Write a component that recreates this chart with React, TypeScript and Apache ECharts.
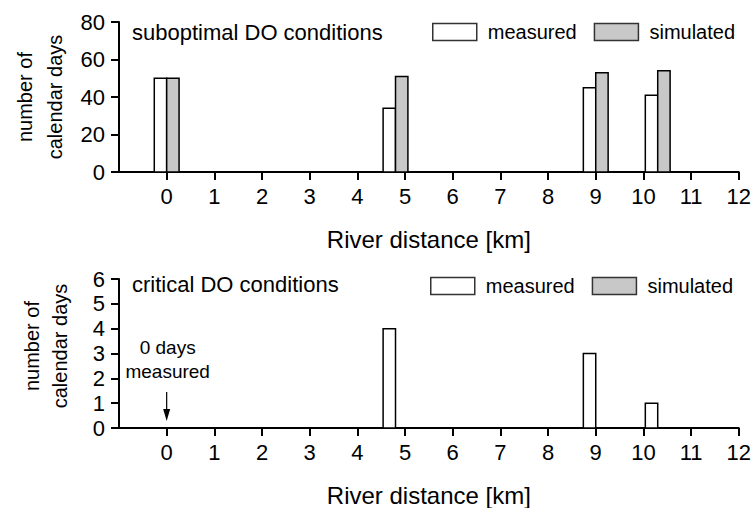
import React, { useEffect, useRef } from "react";
import * as echarts from "echarts";

// ---- data ----
const positions = [0, 4.8, 9, 10.3]; // river distance [km]
const suboptimalMeasured = [50, 34, 45, 41];
const suboptimalSimulated = [50, 51, 53, 54];
const criticalMeasured = [0, 4, 3, 1];
const criticalSimulated = [0, 0, 0, 0];
const xTickValues = [0, 1, 2, 3, 4, 5, 6, 7, 8, 9, 10, 11, 12];
const xTitle = "River distance [km]";
const yTitleLines = ["number of", "calendar days"];
const topPanelTitle = "suboptimal DO conditions";
const bottomPanelTitle = "critical DO conditions";
const seriesNames = ["measured", "simulated"];

const FONT = "'Liberation Sans', Arial, Helvetica, sans-serif";
const BAR_W = 0.26;
const SIM_FILL = "#c8c8c8";

function pairs(xs: number[], ys: number[]) {
  return xs.map((x, i) => [x, ys[i]]);
}

function makeRender(side: number, fill: string) {
  return (params: any, api: any) => {
    const x = api.value(0);
    const y = api.value(1);
    if (!y) return null;
    const x0 = side < 0 ? x - BAR_W : x;
    const pTop = api.coord([x0, y]);
    const pBot = api.coord([x0 + BAR_W, 0]);
    return {
      type: "rect",
      shape: {
        x: pTop[0],
        y: pTop[1],
        width: pBot[0] - pTop[0],
        height: pBot[1] - pTop[1],
      },
      style: { fill, stroke: "#000", lineWidth: 1.5 },
    };
  };
}

function xAxis(gridIndex: number) {
  return {
    type: "value",
    gridIndex,
    min: -1,
    max: 12,
    interval: 1,
    name: xTitle,
    nameLocation: "middle",
    nameGap: 55,
    nameTextStyle: { fontSize: 24, color: "#000", fontFamily: FONT },
    axisLine: { show: true, onZero: false, lineStyle: { color: "#000", width: 2 } },
    axisTick: {
      show: true,
      length: 8,
      customValues: xTickValues,
      lineStyle: { color: "#000", width: 2 },
    },
    axisLabel: {
      fontSize: 22,
      color: "#000",
      fontFamily: FONT,
      margin: 13,
      customValues: xTickValues,
      formatter: (v: number) => (v < 0 ? "" : String(v)),
    },
    splitLine: { show: false },
  };
}

function yAxis(gridIndex: number, max: number, interval: number) {
  return {
    type: "value",
    gridIndex,
    min: 0,
    max,
    interval,
    axisLine: { show: true, onZero: false, lineStyle: { color: "#000", width: 2 } },
    axisTick: { show: true, length: 8, lineStyle: { color: "#000", width: 2 } },
    axisLabel: { fontSize: 22, color: "#000", fontFamily: FONT, margin: 14 },
    splitLine: { show: false },
  };
}

function legend(top: number, left: number) {
  return {
    top,
    left,
    orient: "horizontal",
    itemWidth: 44,
    itemHeight: 17,
    itemGap: 17,
    selectedMode: false,
    textStyle: { fontSize: 20, color: "#000", fontFamily: FONT, padding: [0, 0, 0, 6] },
    data: [
      { name: seriesNames[0], icon: "rect", itemStyle: { color: "#fff", borderColor: "#333", borderWidth: 1.5 } },
      { name: seriesNames[1], icon: "rect", itemStyle: { color: SIM_FILL, borderColor: "#333", borderWidth: 1.5 } },
    ],
  };
}

function yTitle(cx1: number, cx2: number, cy: number) {
  return yTitleLines.map((t, i) => ({
    type: "text",
    x: i === 0 ? cx1 : cx2,
    y: cy,
    rotation: Math.PI / 2,
    style: {
      text: t,
      fontSize: 20,
      fontFamily: FONT,
      fill: "#000",
      textAlign: "center",
      textVerticalAlign: "middle",
    },
  }));
}

export default function App() {
  const ref = useRef<HTMLDivElement>(null);
  useEffect(() => {
    if (!ref.current) return;
    const chart = echarts.init(ref.current, undefined, { renderer: "svg" });
    chart.setOption({
      animation: false,
      backgroundColor: "#fff",
      grid: [
        { left: 119, right: 15, top: 22, height: 150 },
        { left: 119, right: 15, top: 279, height: 150 },
      ],
      xAxis: [xAxis(0), xAxis(1)],
      yAxis: [yAxis(0, 80, 20), yAxis(1, 6, 1)],
      legend: [legend(17, 427), legend(271, 425)],
      series: [
        {
          type: "custom",
          name: seriesNames[0],
          xAxisIndex: 0,
          yAxisIndex: 0,
          itemStyle: { color: "#fff" },
          renderItem: makeRender(-1, "#fff"),
          data: pairs(positions, suboptimalMeasured),
        },
        {
          type: "custom",
          name: seriesNames[1],
          xAxisIndex: 0,
          yAxisIndex: 0,
          itemStyle: { color: SIM_FILL },
          renderItem: makeRender(1, SIM_FILL),
          data: pairs(positions, suboptimalSimulated),
        },
        {
          type: "custom",
          name: seriesNames[0],
          xAxisIndex: 1,
          yAxisIndex: 1,
          itemStyle: { color: "#fff" },
          renderItem: makeRender(-1, "#fff"),
          data: pairs(positions, criticalMeasured),
        },
        {
          type: "custom",
          name: seriesNames[1],
          xAxisIndex: 1,
          yAxisIndex: 1,
          itemStyle: { color: SIM_FILL },
          renderItem: makeRender(1, SIM_FILL),
          data: pairs(positions, criticalSimulated),
        },
      ],
    });

    const anchor = chart.convertToPixel({ xAxisIndex: 1, yAxisIndex: 1 }, [0, 0]) as number[];
    const ax = anchor[0];
    const ay = anchor[1];
    chart.setOption({
      graphic: [
        {
          type: "text",
          x: 132,
          y: 32,
          style: { text: topPanelTitle, fontSize: 22, fontFamily: FONT, fill: "#000", textVerticalAlign: "middle" },
        },
        {
          type: "text",
          x: 132,
          y: 284,
          style: { text: bottomPanelTitle, fontSize: 22, fontFamily: FONT, fill: "#000", textVerticalAlign: "middle" },
        },
        ...yTitle(25, 55, 97),
        ...yTitle(32, 60, 346),
        {
          type: "text",
          x: ax + 1,
          y: ay - 81,
          style: { text: "0 days", fontSize: 19, fontFamily: FONT, fill: "#000", textAlign: "center", textVerticalAlign: "middle" },
        },
        {
          type: "text",
          x: ax + 1,
          y: ay - 57,
          style: { text: "measured", fontSize: 19, fontFamily: FONT, fill: "#000", textAlign: "center", textVerticalAlign: "middle" },
        },
        {
          type: "line",
          shape: { x1: ax, y1: ay - 36, x2: ax, y2: ay - 15 },
          style: { stroke: "#000", lineWidth: 1.2 },
        },
        {
          type: "polygon",
          shape: { points: [[ax - 3.5, ay - 19], [ax + 3.5, ay - 19], [ax, ay - 7]] },
          style: { fill: "#000" },
        },
      ],
    });
    return () => chart.dispose();
  }, []);
  return (
    <div
      ref={ref}
      style={{ position: "absolute", left: 0, top: 0, width: 754, height: 508 }}
    />
  );
}
